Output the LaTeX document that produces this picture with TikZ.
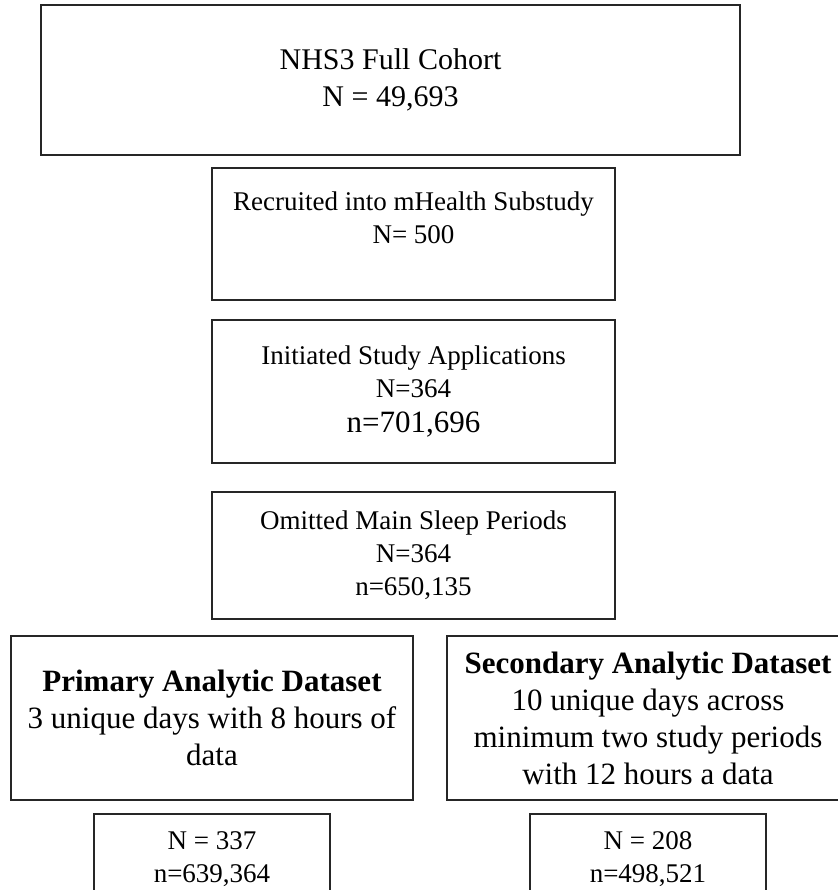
\documentclass[tikz,border=0pt]{standalone}
\usepackage{fontspec}
\setmainfont{Liberation Serif}
\newcommand{\midsize}{\fontsize{20.25pt}{24.75pt}\selectfont}
\newcommand{\topsize}{\fontsize{22.5pt}{27.75pt}\selectfont}
\newcommand{\lowsize}{\fontsize{23.25pt}{27.75pt}\selectfont}

\begin{document}
\begin{tikzpicture}[x=0.75pt,y=-0.75pt]
  \tikzstyle{box}=[draw=black!85,line width=1.5pt,align=center,inner sep=0pt]
  \tikzstyle{stage}=[box,font=\midsize,minimum width=302.25pt]
  \tikzstyle{dataset}=[box,font=\lowsize,minimum width=301.5pt,minimum height=123pt]
  \tikzstyle{count}=[box,font=\midsize,minimum width=177pt,minimum height=67.5pt]
  % Page frame (boxes run off the right and bottom edges)
  \clip (0,0) rectangle (838,890);
  % Main column
  \node[box,font=\topsize,minimum width=524.25pt,minimum height=112.5pt] (cohort) at (390.5,80) {NHS3 Full Cohort\\ N = 49,693};
  \node[stage,minimum height=99pt]     (recruit)   at (413.5,234)   {Recruited into mHealth Substudy\\ N= 500\\ \mbox{}};
  \node[stage,minimum height=107.25pt] (initiated) at (413.5,391.5) {Initiated Study Applications\\ N=364\\[2pt] {\lowsize n=701,696}};
  \node[stage,minimum height=95.25pt]  (omitted)   at (413.5,555.5) {Omitted Main Sleep Periods\\ N=364\\ n=650,135};
  % Datasets
  \node[dataset] (primary)   at (212,718) {\textbf{Primary Analytic Dataset}\\ 3 unique days with 8 hours of\\ data};
  \node[dataset] (secondary) at (648,718) {\textbf{Secondary Analytic Dataset}\\ 10 unique days across\\ minimum two study periods\\ with 12 hours a data};
  % Counts
  \node[count] (nprimary)   at (212,859) {N = 337\\ n=639,364};
  \node[count] (nsecondary) at (648,859) {N = 208\\ n=498,521};
\end{tikzpicture}
\end{document}
